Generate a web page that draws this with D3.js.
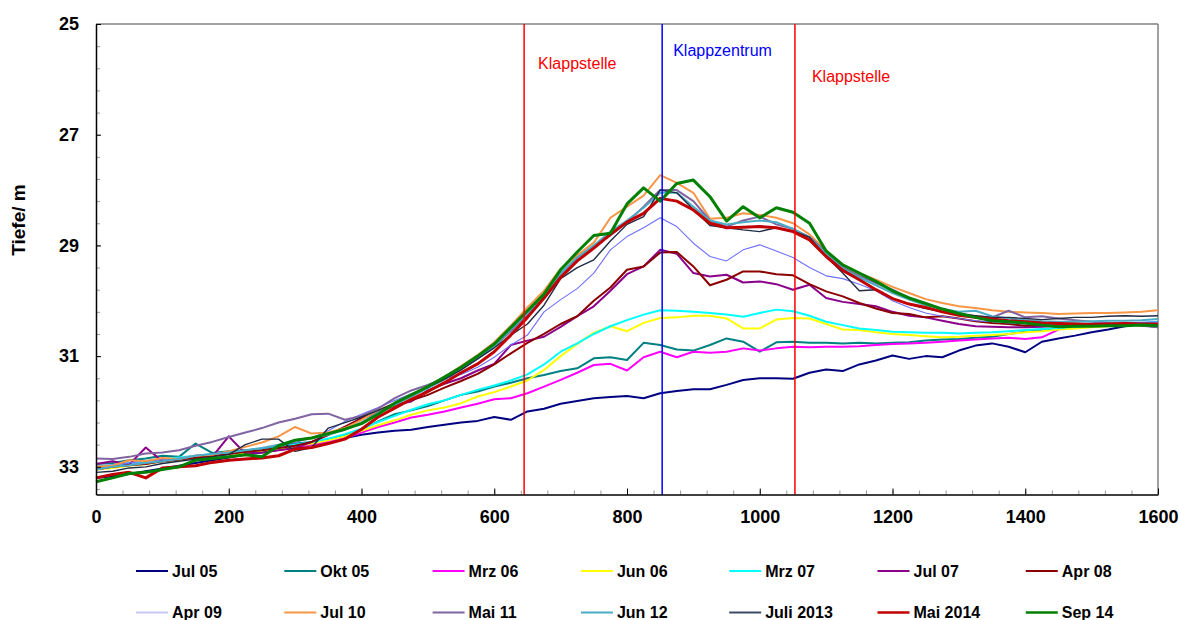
<!DOCTYPE html>
<html>
<head>
<meta charset="utf-8">
<script src="https://cdn.jsdelivr.net/npm/d3@7"></script>
<style>
  html, body { margin: 0; padding: 0; background: #fff; }
  svg { display: block; font-family: "Liberation Sans", Arial, sans-serif; }
</style>
</head>
<body>
<svg id="chart" width="1179" height="620"></svg>
<script>
// Profile distance (m) along the section
const distance = [
  0, 25, 50, 75, 100, 125, 150, 175, 200, 225,
  250, 275, 300, 325, 350, 375, 400, 425, 450, 475,
  500, 525, 550, 575, 600, 625, 650, 675, 700, 725,
  750, 775, 800, 825, 850, 875, 900, 925, 950, 975,
  1000, 1025, 1050, 1075, 1100, 1125, 1150, 1175, 1200, 1225,
  1250, 1275, 1300, 1325, 1350, 1375, 1400, 1425, 1450, 1475,
  1500, 1525, 1550, 1575, 1600
];

// Depth (m) of each survey along the profile
const depthJul05 = [
  33.20, 33.17, 33.13, 33.08, 33.03, 32.98, 32.93, 32.88, 32.83, 32.78,
  32.74, 32.69, 32.65, 32.60, 32.55, 32.48, 32.42, 32.38, 32.35, 32.33,
  32.28, 32.24, 32.20, 32.17, 32.10, 32.15, 32.00, 31.95, 31.86, 31.81,
  31.76, 31.74, 31.72, 31.76, 31.67, 31.63, 31.60, 31.60, 31.52, 31.43,
  31.40, 31.40, 31.41, 31.30, 31.24, 31.27, 31.15, 31.08, 30.99, 31.05,
  31.00, 31.02, 30.90, 30.81, 30.77, 30.83, 30.93, 30.74, 30.68, 30.63,
  30.57, 30.52, 30.46, 30.42, 30.40
];
const depthOkt05 = [
  32.95, 32.93, 32.88, 32.85, 32.80, 32.82, 32.58, 32.75, 32.72, 32.70,
  32.68, 32.62, 32.58, 32.55, 32.50, 32.42, 32.32, 32.18, 32.05, 31.98,
  31.90, 31.80, 31.70, 31.64, 31.55, 31.48, 31.40, 31.34, 31.27, 31.22,
  31.04, 31.02, 31.07, 30.76, 30.80, 30.88, 30.90, 30.80, 30.68, 30.74,
  30.92, 30.75, 30.74, 30.76, 30.76, 30.77, 30.76, 30.77, 30.76, 30.75,
  30.72, 30.70, 30.69, 30.67, 30.65, 30.60, 30.56, 30.53, 30.50, 30.48,
  30.47, 30.45, 30.44, 30.42, 30.40
];
const depthMrz06 = [
  33.00, 32.97, 32.93, 32.90, 32.86, 32.85, 32.80, 32.78, 32.76, 32.74,
  32.72, 32.69, 32.66, 32.60, 32.55, 32.48, 32.38, 32.28, 32.20, 32.11,
  32.06, 32.00, 31.93, 31.86, 31.78, 31.76, 31.67, 31.55, 31.43, 31.30,
  31.16, 31.14, 31.26, 31.02, 30.92, 31.02, 30.92, 30.94, 30.92, 30.86,
  30.90, 30.86, 30.83, 30.84, 30.83, 30.83, 30.82, 30.80, 30.78, 30.77,
  30.76, 30.74, 30.72, 30.70, 30.68, 30.67, 30.69, 30.66, 30.52, null,
  null, null, null, null, null
];
const depthJun06 = [
  33.05, 33.02, 32.98, 32.95, 32.90, 32.88, 32.84, 32.80, 32.77, 32.75,
  32.72, 32.68, 32.63, 32.58, 32.52, 32.45, 32.35, 32.25, 32.16, 32.06,
  31.98, 31.93, 31.85, 31.73, 31.65, 31.55, 31.44, 31.25, 31.00, 30.78,
  30.58, 30.46, 30.55, 30.40, 30.31, 30.30, 30.27, 30.27, 30.32, 30.50,
  30.50, 30.34, 30.31, 30.32, 30.42, 30.52, 30.53, 30.57, 30.60, 30.62,
  30.64, 30.66, 30.65, 30.63, 30.62, 30.60, 30.57, 30.55, 30.52, 30.50,
  30.48, 30.46, 30.44, 30.42, 30.40
];
const depthMrz07 = [
  33.00, 32.97, 32.93, 32.90, 32.86, 32.83, 32.80, 32.77, 32.74, 32.72,
  32.69, 32.65, 32.60, 32.55, 32.49, 32.41, 32.31, 32.19, 32.08, 31.97,
  31.87, 31.80, 31.70, 31.61, 31.53, 31.44, 31.33, 31.15, 30.92, 30.77,
  30.60, 30.46, 30.35, 30.25, 30.17, 30.18, 30.20, 30.22, 30.25, 30.29,
  30.22, 30.16, 30.19, 30.27, 30.38, 30.44, 30.50, 30.53, 30.56, 30.57,
  30.58, 30.58, 30.59, 30.58, 30.57, 30.55, 30.53, 30.51, 30.49, 30.47,
  30.45, 30.43, 30.42, 30.40, 30.38
];
const depthJul07 = [
  32.95, 32.90, 32.96, 32.65, 32.90, 32.86, 32.84, 32.82, 32.45, 32.76,
  32.74, 32.70, 32.66, 32.55, 32.42, 32.28, 32.12, 32.00, 31.88, 31.82,
  31.62, 31.50, 31.40, 31.26, 31.14, 30.80, 30.72, 30.65, 30.47, 30.28,
  30.10, 29.82, 29.52, 29.38, 29.08, 29.15, 29.50, 29.56, 29.53, 29.67,
  29.65, 29.70, 29.80, 29.71, 29.95, 30.02, 30.06, 30.10, 30.20, 30.27,
  30.30, 30.36, 30.42, 30.46, 30.47, 30.48, 30.48, 30.47, 30.45, 30.44,
  30.44, 30.43, 30.42, 30.44, 30.48
];
const depthApr08 = [
  33.05, 33.00, 32.97, 32.95, 32.90, 32.87, 32.83, 32.80, 32.77, 32.73,
  32.70, 32.66, 32.62, 32.55, 32.42, 32.28, 32.13, 32.02, 31.90, 31.80,
  31.70, 31.57, 31.45, 31.32, 31.15, 30.95, 30.76, 30.60, 30.42, 30.28,
  30.00, 29.76, 29.44, 29.38, 29.13, 29.12, 29.38, 29.72, 29.62, 29.47,
  29.47, 29.52, 29.54, 29.70, 29.83, 29.92, 30.04, 30.14, 30.22, 30.24,
  30.30, 30.28, 30.32, 30.37, 30.40, 30.42, 30.45, 30.43, 30.47, 30.45,
  30.44, 30.42, 30.43, 30.41, 30.42
];
const depthApr09 = [
  33.00, 32.97, 32.93, 32.90, 32.87, 32.84, 32.80, 32.77, 32.74, 32.70,
  32.66, 32.62, 32.56, 32.48, 32.35, 32.18, 32.05, 31.93, 31.80, 31.68,
  31.58, 31.40, 31.33, 31.20, 31.02, 30.80, 30.62, 30.20, 29.98, 29.78,
  29.50, 29.08, 28.84, 28.68, 28.50, 28.66, 28.96, 29.20, 29.28, 29.08,
  28.99, 29.10, 29.22, 29.40, 29.55, 29.60, 29.70, 29.82, 30.00, 30.12,
  30.22, 30.28, 30.32, 30.36, 30.38, 30.40, 30.42, 30.43, 30.44, 30.43,
  30.42, 30.41, 30.40, 30.39, 30.38
];
const depthJul10 = [
  33.00, 32.98, 32.88, 32.90, 32.84, 32.86, 32.80, 32.78, 32.72, 32.64,
  32.56, 32.45, 32.28, 32.40, 32.38, 32.30, 32.15, 31.98, 31.85, 31.70,
  31.55, 31.38, 31.18, 30.98, 30.75, 30.45, 30.12, 29.82, 29.42, 29.18,
  28.95, 28.50, 28.30, 28.10, 27.73, 27.87, 28.05, 28.52, 28.50, 28.42,
  28.45, 28.50, 28.60, 28.80, 29.10, 29.35, 29.50, 29.62, 29.75, 29.86,
  29.97, 30.04, 30.10, 30.13, 30.17, 30.20, 30.21, 30.22, 30.24, 30.23,
  30.22, 30.22, 30.21, 30.20, 30.17
];
const depthMai11 = [
  32.85, 32.86, 32.82, 32.76, 32.74, 32.70, 32.62, 32.55, 32.46, 32.38,
  32.30, 32.20, 32.13, 32.05, 32.04, 32.15, 32.08, 31.95, 31.76, 31.62,
  31.52, 31.40, 31.22, 31.02, 30.82, 30.55, 30.25, 29.90, 29.52, 29.22,
  29.02, 28.82, 28.58, 28.30, 28.00, 28.00, 28.20, 28.55, 28.66, 28.55,
  28.48, 28.62, 28.70, 28.85, 29.12, 29.40, 29.55, 29.68, 29.80, 29.95,
  30.05, 30.15, 30.22, 30.28, 30.30, 30.18, 30.30, 30.28, 30.32, 30.35,
  30.38, 30.40, 30.42, 30.45, 30.48
];
const depthJun12 = [
  33.05, 33.00, 32.97, 32.93, 32.90, 32.86, 32.80, 32.77, 32.74, 32.70,
  32.66, 32.60, 32.52, 32.48, 32.42, 32.33, 32.20, 32.02, 31.88, 31.73,
  31.58, 31.42, 31.24, 31.04, 30.82, 30.52, 30.22, 29.90, 29.50, 29.22,
  29.00, 28.75, 28.55, 28.32, 28.05, 28.05, 28.30, 28.55, 28.62, 28.58,
  28.55, 28.58, 28.70, 28.86, 29.15, 29.42, 29.58, 29.72, 29.86, 29.98,
  30.08, 30.15, 30.20, 30.18, 30.28, 30.32, 30.35, 30.37, 30.38, 30.38,
  30.37, 30.36, 30.36, 30.35, 30.33
];
const depthJuli2013 = [
  33.10, 33.08, 33.02, 33.00, 32.94, 32.90, 32.86, 32.82, 32.78, 32.60,
  32.50, 32.50, 32.72, 32.65, 32.30, 32.20, 32.10, 31.98, 31.85, 31.70,
  31.56, 31.42, 31.25, 31.05, 30.85, 30.62, 30.42, 30.08, 29.60, 29.40,
  29.26, 28.92, 28.62, 28.48, 28.00, 28.05, 28.35, 28.64, 28.68, 28.72,
  28.75, 28.68, 28.74, 28.85, 29.20, 29.50, 29.82, 29.80, 29.96, 30.06,
  30.14, 30.20, 30.24, 30.27, 30.30, 30.30, 30.32, 30.34, 30.32, 30.30,
  30.30, 30.28, 30.27, 30.28, 30.27
];
const depthMai2014 = [
  33.20, 33.14, 33.10, 33.20, 33.02, 33.00, 32.98, 32.92, 32.88, 32.86,
  32.84, 32.80, 32.68, 32.65, 32.58, 32.50, 32.32, 32.10, 31.94, 31.78,
  31.64, 31.48, 31.30, 31.14, 30.92, 30.62, 30.30, 29.95, 29.58, 29.28,
  29.05, 28.80, 28.58, 28.42, 28.15, 28.20, 28.36, 28.60, 28.68, 28.67,
  28.66, 28.68, 28.75, 28.90, 29.20, 29.45, 29.62, 29.80, 29.96, 30.06,
  30.12, 30.20, 30.26, 30.30, 30.33, 30.36, 30.38, 30.40, 30.41, 30.42,
  30.43, 30.42, 30.41, 30.42, 30.42
];
const depthSep14 = [
  33.27, 33.20, 33.12, 33.10, 33.05, 33.00, 32.88, 32.85, 32.82, 32.78,
  32.82, 32.62, 32.52, 32.48, 32.40, 32.32, 32.22, 32.05, 31.85, 31.70,
  31.55, 31.38, 31.20, 31.00, 30.78, 30.48, 30.18, 29.88, 29.44, 29.12,
  28.82, 28.78, 28.25, 27.96, 28.20, 27.88, 27.82, 28.12, 28.56, 28.30,
  28.50, 28.32, 28.40, 28.60, 29.10, 29.35, 29.50, 29.65, 29.82, 29.95,
  30.05, 30.15, 30.23, 30.30, 30.36, 30.38, 30.40, 30.44, 30.47, 30.46,
  30.46, 30.45, 30.45, 30.44, 30.45
];

const seriesNames = [
  "Jul 05", "Okt 05", "Mrz 06", "Jun 06", "Mrz 07", "Jul 07", "Apr 08",
  "Apr 09", "Jul 10", "Mai 11", "Jun 12", "Juli 2013", "Mai 2014", "Sep 14"
];
const seriesDepths = [
  depthJul05, depthOkt05, depthMrz06, depthJun06, depthMrz07, depthJul07, depthApr08,
  depthApr09, depthJul10, depthMai11, depthJun12, depthJuli2013, depthMai2014, depthSep14
];

// Dump site and centre positions (m)
const markerDistances = [645, 853, 1053];
const markerLabels = ["Klappstelle", "Klappzentrum", "Klappstelle"];

const xTickValues = [0, 200, 400, 600, 800, 1000, 1200, 1400, 1600];
const yTickValues = [25, 27, 29, 31, 33];

// Styling
const seriesColors = [
  "#000080", "#008080", "#FF00FF", "#FFFF00", "#00FFFF", "#8B008B", "#8B0000",
  "#6f6fff", "#F79646", "#8064A2", "#4BACC6", "#1f2a44", "#C00000", "#008000"
];
const legendColors = seriesColors.map((c, i) => i === 7 ? "#c8c8fa" : (i === 11 ? "#3d4a66" : c));
const seriesWidths = [2, 2, 2, 2, 2, 2, 2, 1.1, 2, 2, 2, 1.4, 3, 3];
const markerColors = ["#FF0000", "#0000FF", "#FF0000"];

const svg = d3.select("#chart");
const plotLeft = 96, plotRight = 1158, plotTop = 24, plotBottom = 494.5;

const x = d3.scaleLinear().domain([0, 1600]).range([plotLeft, plotRight]);
const y = d3.scaleLinear().domain([25, 33.5]).range([plotTop, plotBottom]);

// Plot frame: grey top and right edges
svg.append("line").attr("x1", plotLeft).attr("x2", plotRight).attr("y1", plotTop).attr("y2", plotTop)
  .attr("stroke", "#808080").attr("stroke-width", 1.5);
svg.append("line").attr("x1", plotRight).attr("x2", plotRight).attr("y1", plotTop).attr("y2", plotBottom)
  .attr("stroke", "#808080").attr("stroke-width", 1.5);

// Minor ticks
const xMinor = d3.range(0, 41).map(i => i * 40);
const yMinor = d3.range(0, 22).map(i => 25 + i * 0.4);
svg.append("g").attr("transform", `translate(0,${plotBottom})`)
  .call(d3.axisBottom(x).tickValues(xMinor).tickSizeInner(-4).tickSizeOuter(0).tickFormat(""))
  .call(g => g.select(".domain").remove())
  .call(g => g.selectAll(".tick line").attr("stroke", "#999"));
svg.append("g").attr("transform", `translate(${plotLeft},0)`)
  .call(d3.axisLeft(y).tickValues(yMinor).tickSizeInner(-4).tickSizeOuter(0).tickFormat(""))
  .call(g => g.select(".domain").remove())
  .call(g => g.selectAll(".tick line").attr("stroke", "#999"));

// Survey profiles
const lineGen = d3.line()
  .defined(d => d[1] != null)
  .x(d => x(d[0]))
  .y(d => y(d[1]));

const plot = svg.append("g");
seriesDepths.forEach((depths, i) => {
  const pts = distance.map((d, j) => [d, depths[j]]);
  plot.append("path")
    .datum(pts)
    .attr("fill", "none")
    .attr("stroke", seriesColors[i])
    .attr("stroke-width", seriesWidths[i])
    .attr("stroke-linejoin", "round")
    .attr("d", lineGen);
});

// Dump site markers
markerDistances.forEach((m, i) => {
  svg.append("line")
    .attr("x1", x(m)).attr("x2", x(m))
    .attr("y1", plotTop).attr("y2", plotBottom)
    .attr("stroke", markerColors[i]).attr("stroke-width", 1.5);
});
const labelPlacement = [{dx: 14, y: 69}, {dx: 11, y: 56}, {dx: 17, y: 82}];
markerDistances.forEach((m, i) => {
  svg.append("text")
    .attr("x", x(m) + labelPlacement[i].dx)
    .attr("y", labelPlacement[i].y)
    .attr("fill", markerColors[i])
    .attr("font-size", 16)
    .text(markerLabels[i]);
});

// Major axes
svg.append("g").attr("transform", `translate(0,${plotBottom})`)
  .call(d3.axisBottom(x).tickValues(xTickValues).tickFormat(d3.format("d"))
    .tickSizeInner(-6).tickSizeOuter(0).tickPadding(16))
  .call(g => g.select(".domain").attr("stroke", "#000").attr("stroke-width", 1.5))
  .call(g => g.selectAll(".tick line").attr("stroke", "#000"))
  .call(g => g.selectAll("text").attr("font-size", 18).attr("font-weight", "bold")
    .attr("font-family", "Liberation Sans, Arial, sans-serif").attr("fill", "#000"));

svg.append("g").attr("transform", `translate(${plotLeft},0)`)
  .call(d3.axisLeft(y).tickValues(yTickValues).tickFormat(d3.format("d"))
    .tickSizeInner(-5).tickSizeOuter(0).tickPadding(17))
  .call(g => g.select(".domain").attr("stroke", "#000").attr("stroke-width", 1.5))
  .call(g => g.selectAll(".tick line").attr("stroke", "#000"))
  .call(g => g.selectAll("text").attr("font-size", 18).attr("font-weight", "bold")
    .attr("font-family", "Liberation Sans, Arial, sans-serif").attr("fill", "#000"));

// Axis title
svg.append("text")
  .attr("transform", "translate(25,220) rotate(-90)")
  .attr("text-anchor", "middle")
  .attr("font-size", 19)
  .attr("font-weight", "bold")
  .text("Tiefe/ m");

// Legend: two rows of seven
const legend = svg.append("g");
seriesNames.forEach((name, i) => {
  const row = Math.floor(i / 7), col = i % 7;
  const lx = 136 + col * 148.3;
  const ly = row === 0 ? 571 : 612.5;
  legend.append("line")
    .attr("x1", lx).attr("x2", lx + 32)
    .attr("y1", ly).attr("y2", ly)
    .attr("stroke", legendColors[i])
    .attr("stroke-width", Math.max(2, Math.min(seriesWidths[i], 2.5)));
  legend.append("text")
    .attr("x", lx + 36).attr("y", ly + 5.5)
    .attr("font-size", 16).attr("font-weight", "bold")
    .text(name);
});
</script>
</body>
</html>
